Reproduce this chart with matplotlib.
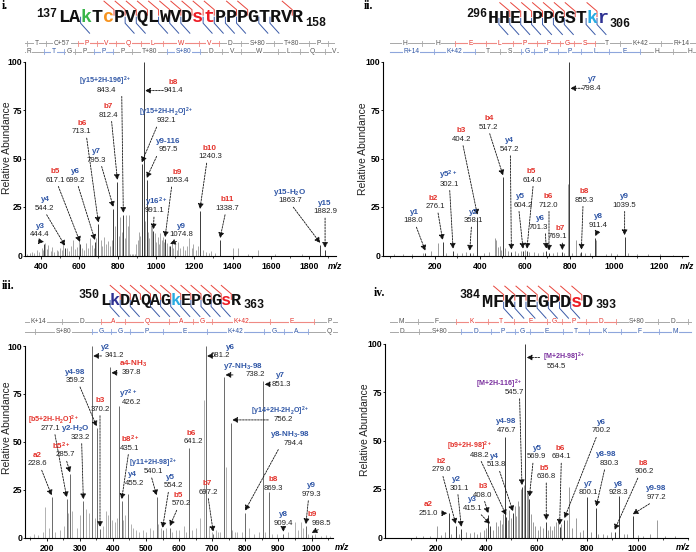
import matplotlib
matplotlib.use('Agg')
import matplotlib.pyplot as plt

plt.rcParams['font.family'] = ['Liberation Sans', 'DejaVu Sans']
plt.rcParams['mathtext.fontset'] = 'custom'
plt.rcParams['mathtext.rm'] = 'Liberation Sans:bold'
plt.rcParams['mathtext.it'] = 'Liberation Sans:bold:italic'
plt.rcParams['mathtext.bf'] = 'Liberation Sans:bold'
plt.rcParams['mathtext.default'] = 'rm'

W, H = 696, 552
COL = {'R': '#e4322b', 'B': '#2f56a6', 'P': '#7a2f9e'}
SEQCOL = {'.': '#111111', 'g': '#39b54a', 'o': '#f7931e', 'r': '#ed1c24',
          'c': '#29abe2', 'n': '#2e3192'}
GREY_L, GREY_T = '#a8a8a8', '#555555'
RED_L, BLUE_L = '#ef8a84', '#8ea6dc'

# ---------------- data: panel i ----------------
seq_i, seqcol_i = 'LAkTcPVQLWVDstPPPGTRVR', '..g.o.......rr........'
red_i = [5, 6, 7, 8, 9, 10, 11, 12, 13, 14, 16, 17, 21]
blue_i = [2, 6, 7, 9, 10, 11, 13, 14, 15, 16, 18, 19]
b_edges_i = [346, 355.2, 456.3, 616.3, 713.4, 812.4, 940.5, 1053.6, 1239.7, 1338.7,
             1453.8, 1620.8, 1801.8, 1898.8, 1960]
b_names_i = ['', 'T', 'C+57', 'P', 'V', 'Q', 'L', 'W', 'V', 'D', 'S+80', 'T+80', 'P', '']
b_hot_i = [3, 4, 5, 6, 7, 8]
y_edges_i = [288.2, 444.3, 545.3, 602.4, 699.4, 796.5, 893.5, 1074.5, 1241.5, 1356.6,
             1455.6, 1641.7, 1754.8, 1882.9, 1982.0]
y_names_i = ['R', 'T', 'G', 'P', 'P', 'P', 'T+80', 'S+80', 'D', 'V', 'W', 'L', 'Q', 'V']
y_hot_i = [1, 4, 7]

lab_i = ['y3', 'y4', 'b5', 'y6', 'b6', 'y7', 'b7', '[y15+2H-196]$^{2+}$', 'b8',
         '[y15+2H-H$_2$O]$^{2+}$', 'y9-116', 'y16$^{2+}$', 'b9', 'y9', 'b10', 'b11',
         'y15-H$_2$O', 'y15']
labcol_i = 'BBRBRBRBRBBBRBRRBB'
mass_i = ['444.4', '544.2', '617.1', '699.2', '713.1', '795.3', '812.4', '843.4', '941.4',
          '932.1', '957.5', '991.1', '1053.4', '1074.8', '1240.3', '1338.7', '1863.7', '1882.9']
pk_i_mz = [416, 526, 604, 682, 700, 778, 799, 830, 936, 926, 952, 987, 1048, 1074, 1230,
           1335, 1857, 1883]
pk_i_int = [6, 4, 6, 7, 16, 24, 38, 21, 100, 47, 39, 12.5, 8.5, 5, 23, 8, 5.5, 3]
noise_i_mz = [330, 345, 352, 365, 378, 392, 405, 410, 423, 430,
              438, 452, 460, 470, 482, 490, 500, 510, 517, 526,
              535, 548, 556, 569, 580, 590, 597, 612, 625, 633,
              645, 655, 665, 675, 690, 712, 720, 730, 740, 752,
              760, 770, 778, 786, 806, 815, 822, 838, 845, 852,
              858, 866, 874, 882, 890, 898, 905, 912, 918, 945,
              958, 965, 972, 978, 984, 995, 1003, 1010, 1016, 1022,
              1030, 1038, 1044, 1058, 1066, 1082, 1090, 1098, 1108, 1118,
              1128, 1140, 1152, 1162, 1175, 1188, 1196, 1210, 1222, 1248,
              1262, 1275, 1290, 1310, 1404, 1430, 1480, 1535, 1620, 1760]
noise_i_int = [1, 1.5, 2, 1.2, 3, 2, 4, 3, 6.3, 3.5,
               5.4, 2.5, 4.6, 2, 3, 2.5, 4, 3, 6.3, 2,
               4, 2.5, 5, 8, 3.5, 4.5, 8, 4, 3, 6.5,
               4, 8.8, 5.5, 4, 9, 8, 5, 9.7, 6, 7.5,
               5, 8, 23.4, 15, 10, 20, 12, 9, 21, 15,
               20.9, 1, 0.8, 0.8, 1, 6, 8, 12, 10, 18,
               12, 9, 15.7, 14.9, 10, 11.5, 7, 9.7, 6, 11.5,
               8, 9.7, 7, 6.3, 5, 7.1, 4, 6, 3, 7.1,
               4, 5, 3, 5, 8.8, 4, 6, 3, 5, 3,
               2, 1.5, 2.5, 1.5, 3.7, 3.7, 1, 2.9, 0.8, 0.8]

# ---------------- data: panel ii ----------------
seq_ii, seqcol_ii = 'HHELPPGSTkr', '.........cn'
red_ii = [2, 3, 4, 5, 6, 7, 8, 10]
blue_ii = [1, 2, 3, 4, 5, 6, 7, 9, 10]
b_edges_ii = [0, 138.1, 275.1, 404.2, 517.3, 614.3, 711.4, 768.4, 855.4, 956.5, 1126.6, 1296.7]
b_names_ii = ['H', 'H', 'E', 'L', 'P', 'P', 'G', 'S', 'T', 'K+42', 'R+14']
b_hot_ii = [2, 3, 4, 5, 6, 7]
y_edges_ii = [0, 189.1, 359.2, 460.3, 547.3, 604.3, 701.4, 798.5, 911.5, 1040.6, 1177.6, 1314.7]
y_names_ii = ['R+14', 'K+42', 'T', 'S', 'G', 'P', 'P', 'L', 'E', 'H', 'H']
y_hot_ii = [0, 1, 4, 5, 6, 7, 8]

lab_ii = ['y1', 'b2', 'y5$^{2+}$', 'b3', 'y2', 'b4', 'y4', 'b5', 'y5', 'b6', 'y6', 'b7',
          'b8', 'y8', 'y9', 'y7']
labcol_ii = 'BRBRBRBRBRBRRBBB'
mass_ii = ['188.0', '276.1', '302.1', '404.2', '358.1', '517.2', '547.2', '614.0', '604.2',
           '712.0', '701.3', '769.1', '855.3', '911.4', '1039.5', '798.4']
pk_ii_mz = [158, 235, 281.5, 389.6, 355.6, 503.7, 540.7, 610, 592.6, 708, 696, 767, 852,
            914, 1044, 796]
pk_ii_int = [1.5, 7, 2.5, 20, 1.5, 40.3, 2, 2.5, 2.5, 1.5, 2.5, 1.8, 2, 9, 9.5, 100]
noise_ii_mz = [20, 60, 100, 150, 185, 214, 250, 300, 320, 340,
               372, 418, 440, 466, 474, 483, 489, 495, 512, 525,
               556, 568, 582, 600, 620, 640, 660, 680, 725, 745,
               775, 793, 810, 830, 845, 870, 890, 919, 960, 985,
               1010, 1060, 1100, 1150, 1200, 1260]
noise_ii_int = [0.6, 0.8, 0.7, 1.2, 2.5, 6.5, 1.5, 1.5, 1.2, 2,
                1.5, 1.2, 2, 9, 8, 4.5, 5, 3, 4, 2.5,
                2.5, 1.5, 2.2, 2.8, 2, 1.8, 1.5, 2, 1.5, 2,
                1.5, 37, 1.5, 8, 1.5, 1.2, 1.5, 8, 1, 1.5,
                1, 1.2, 0.8, 0.8, 0.6, 0.5]

# ---------------- data: panel iii ----------------
seq_iii, seqcol_iii = 'LkDAQAGkEPGGsR', '.n.....c....r.'
red_iii = [2, 3, 4, 5, 6, 7, 8, 9, 10, 11, 12, 13]
blue_iii = [1, 2, 3, 5, 6, 7, 8, 9, 10, 11, 12]
b_edges_iii = [114.1, 256.2, 371.2, 442.3, 570.3, 641.3, 698.4, 868.5, 997.5, 1094.6]
b_names_iii = ['K+14', 'D', 'A', 'Q', 'A', 'G', 'K+42', 'E', 'P']
b_hot_iii = [2, 3, 4, 5, 6, 7]
y_edges_iii = [175.1, 342.1, 399.1, 456.2, 553.2, 682.3, 852.4, 909.4, 980.5, 1108.5]
y_names_iii = ['S+80', 'G', 'G', 'P', 'E', 'K+42', 'G', 'A', 'Q']
y_hot_iii = [1, 2, 3, 4, 5, 6, 7]

lab_iii = ['a2', '[b5+2H-H$_2$O]$^{2+}$', 'b5$^{2+}$', 'y2-H$_2$O', 'y4-98', 'b3',
           'y7$^{2+}$', 'b8$^{2+}$', 'y4', '[y11+2H-98]$^{2+}$', 'y5', 'b5', 'b6', 'b7',
           '[y14+2H-2H$_2$O]$^{2+}$', 'y8-NH$_3$-98', 'b8', 'y9', 'y8', 'b9', 'y2', 'y6',
           'a4-NH$_3$', 'y7-NH$_3$-98', 'y7']
labcol_iii = 'RRRBBRBRBBBRRRBBRBBRBBRBB'
mass_iii = ['228.6', '277.1', '285.7', '323.2', '359.2', '370.2', '426.2', '435.1', '455.2',
            '540.1', '554.2', '570.2', '641.2', '697.2', '756.2', '794.4', '869.3', '979.3',
            '909.4', '998.5', '341.2', '681.2', '397.8', '738.2', '851.3']
pk_iii_mz = [215, 260.4, 270.4, 310.6, 351, 361, 419, 426.6, 446.6, 532, 550, 572, 631, 703,
             756, 799, 872, 983, 914.8, 1000.5, 336, 680, 391, 735.6, 854]
pk_iii_int = [21, 20, 33, 19, 57, 4.5, 68.5, 19, 22.5, 21, 4, 5, 46.6, 2, 60, 13, 24, 6, 2,
              1.5, 100, 100, 89, 84, 81.5]
noise_iii_mz = [150, 162, 175, 188, 195, 206, 225, 240, 252, 265,
                277, 290, 300, 318, 327, 345, 370, 380, 386, 398,
                405, 412, 430, 438, 455, 462, 470, 480, 492, 500,
                512, 520, 537, 545, 560, 580, 590, 600, 615, 622,
                640, 650, 662, 675, 690, 698, 710, 718, 725, 743,
                760, 768, 775, 790, 810, 825, 840, 860, 880, 895,
                928, 950, 958, 968, 975, 990, 1010, 1030, 1045, 1055]
noise_iii_int = [1, 2, 1.5, 3, 16, 5, 3, 4, 6, 13,
                 14, 5, 12, 15, 13, 10, 6, 14, 12, 9,
                 8, 10, 9, 12, 7, 5, 4, 3, 4, 3,
                 5, 4, 7, 5, 5, 3, 4, 4, 6, 3,
                 4, 5, 10, 72, 6, 3, 4, 3, 3, 37,
                 4, 3, 3, 3, 5, 2, 3, 3, 2, 2,
                 3, 8, 4, 8, 5, 2, 2, 1, 1.5, 1]

# ---------------- data: panel iv ----------------
seq_iv, seqcol_iv = 'MFKTEGPDsD', '........r.'
red_iv = [2, 3, 4, 5, 6, 7, 8, 9]
blue_iv = [2, 3, 4, 5, 6, 7, 8]
b_edges_iv = [0, 132.05, 279.1, 407.2, 508.3, 637.3, 694.3, 791.4, 906.4, 1073.4, 1188.4]
b_names_iv = ['M', 'F', 'K', 'T', 'E', 'G', 'P', 'D', 'S+80', 'D']
b_hot_iv = [2, 3, 4, 5, 6, 7]
y_edges_iv = [0, 134.0, 301.0, 416.1, 513.1, 570.1, 699.2, 800.2, 928.3, 1075.4, 1206.5]
y_names_iv = ['D', 'S+80', 'D', 'P', 'G', 'E', 'T', 'K', 'F', 'M']
y_hot_iv = [2, 3, 4, 5, 6, 7, 8, 9]

lab_iv = ['a2', 'b2', 'y2', 'b3', 'y3', '[M+2H-98]$^{2+}$', '[M+2H-116]$^{2+}$', 'y4-98',
          '[b9+2H-98]$^{2+}$', 'y4', 'y5', 'b5', 'b6', 'y6', 'y8-98', 'y7', 'y8', 'b8', 'y9-98']
labcol_iv = 'RRBRBPPBRBBRRBBBBRB'
mass_iv = ['251.0', '279.0', '301.1', '408.0', '415.1', '554.5', '545.7', '476.7', '488.2',
           '513.8', '569.9', '636.8', '694.1', '700.2', '830.3', '800.1', '928.3', '906.2',
           '977.2']
pk_iv_mz = [251, 279, 301, 408, 415, 554.5, 541.5, 475, 479, 506, 571, 638, 691, 710, 836,
            800, 928, 909, 981]
pk_iv_int = [12.5, 6, 4.5, 11.5, 6, 100, 26, 52, 10.5, 12.5, 20, 8, 5.5, 9, 15, 21, 21.4,
             3, 11]
noise_iv_mz = [120, 150, 178, 205, 222, 235, 262, 290, 320, 335,
               350, 362, 375, 390, 400, 425, 438, 448, 455, 462,
               468, 485, 492, 498, 512, 518, 525, 530, 537, 548,
               560, 565, 578, 585, 592, 605, 615, 625, 645, 652,
               660, 668, 676, 684, 698, 720, 728, 740, 755, 770,
               785, 815, 845, 862, 880, 895, 945, 960, 1000, 1020,
               1050, 1077, 1110, 1150]
noise_iv_int = [0.8, 1, 1, 6, 1.5, 3, 2, 2, 3, 2.5,
                3, 2, 3, 4, 5, 4, 8, 6, 9, 7,
                12, 9, 14, 10, 16, 11, 19, 16, 25, 27,
                24, 22, 12, 8, 6, 4, 6, 5, 4, 6,
                4, 6, 8, 10, 7, 9, 26, 5, 10, 3,
                4, 3, 2, 2, 1.5, 3, 2, 2, 1.5, 1,
                2, 9, 1, 0.8]

# ---------------- label layout: (num x, num y, arrow kind, arrow start x, label x) ----------------
lay_i = [(395, 10.6, 'd', 395, None), (421, 24.3, 'd', 430, None), (474, 38.9, 'd', 491, None),
         (578, 38.9, 'd', 595, None), (613, 63.8, 'd', 639, None), (691, 49.2, 'd', 717, None),
         (752, 72.4, 'd', 769, None), (743, 85.3, 'd', 822, 735), (1091, 85.0, 'h', 1039, None),
         (1056, 69.5, 'd', 1004, None), (1065, 54.4, 'd', 1004, None), (995, 23.1, 'd', 990, 1000),
         (1109, 38.6, 'd', 1082, None), (1135, 10.6, 'd', 1108, None), (1282, 50.9, 'd', 1265, None),
         (1370, 24.3, 'd', 1361, None), (1700, 28.2, 'd', 1717, None), (1883, 22.6, 'd', 1883, None)]
lay_ii = [(103.7, 17.9, 'd', 118.5, 111), (203, 25.2, 'd', 214.8, 192.6), (266.7, 36.8, 'd', 266.7, 259),
          (318.5, 59.9, 'd', 326, None), (370.4, 17.9, 'd', 363, None), (440, 66.1, 'd', 444.4, None),
          (533.3, 54.7, 'd', 536.3, None), (634, 38.9, 'd', 637, 629.6), (592.6, 26.0, 'd', 574.8, 582),
          (703.7, 26.0, 'd', 708, 706.7), (659, 14.5, 'd', 692, 671), (745, 9.7, 'd', 767.4, 755.6),
          (866.7, 28.6, 'd', 859, 863.7), (926, 15.7, 'd', 923, None), (1044.4, 26.0, 'd', 1044.4, None),
          (896, 86.2, 'h', 859, 903)]
lay_iii = [(171.6, 38.4, 'd', 184.9, None), (210, 57.0, 'd', 225, 220), (255.3, 43.1, 'd', 260.4, 245),
           (300.6, 52.3, 'd', 305.7, 285.5), (285.5, 81.9, 'd', 300.6, None), (361, 66.9, 'd', 361, None),
           (456.8, 70.4, '', 0, 446.5), (451.6, 46.6, 'd', 446.5, None), (466.8, 28.3, '', 0, 459.7),
           (522, 34.4, 'd', 517.2, None), (582.5, 26.9, 'd', 567.4, 572.5), (607.8, 17.5, 'd', 592.7, 597.6),
           (643, 50.0, '', 0, 638), (688.3, 23.6, 'd', 688.2, 683.4), (914.8, 61.4, 'h', 869.5, 904.8),
           (945, 49.2, 'd', 899.7, 935), (884.6, 25.7, '', 0, None), (1000.5, 22.5, 'd', 990.3, None),
           (914.8, 7.4, 'd', 914.8, None), (1031, 7.4, 'd', 1020.5, 1000.5), (406, 94.8, 'h', 365.6, 376),
           (725.6, 94.8, 'h', 699.4, 753.7), (456.8, 86.0, 'h', 412.4, 461.6),
           (829, 84.9, 'h', 762.8, 794), (910, 80.0, 'h', 874.6, 904.8)]
lay_iv = [(168.8, 12.5, 'r', 228.3, None), (221.7, 34.8, 'd', 228.3, None), (294.4, 25.4, 'd', 287.7, 281),
          (386.8, 21.9, 'd', 393.5, None), (347, 15.0, 'd', 380, None), (677.4, 88.4, 'hl', 611.6, 710.6),
          (512, 74.8, 'd', 532.2, 453), (479, 55.4, '', 0, None), (373.6, 42.5, 'd', 380, 334),
          (439.6, 37.4, 'd', 453, 433), (598, 41.6, 'd', 585, 604.8), (637.9, 31.4, 'd', 637.9, 631),
          (697.3, 41.6, 'd', 697.3, 694.7), (855.9, 54.9, 'd', 836, None), (889, 38.2, 'd', 869, 875.7),
          (803, 23.1, '', 0, None), (924.6, 23.1, '', 0, None), (1027.7, 33.9, 'd', 1001, 1021),
          (1073.9, 20.7, 'd', 1047.5, None)]

ARW = dict(arrowstyle='-|>,head_length=0.32,head_width=0.17', color='#111111', lw=0.6,
           linestyle=(0, (2.2, 1.4)), shrinkA=0, shrinkB=0)

fig = plt.figure(figsize=(W / 100, H / 100), dpi=100)
ov = fig.add_axes([0, 0, 1, 1])
ov.set_xlim(0, W)
ov.set_ylim(H, 0)
ov.axis('off')


def px_axes(l, t, r, b):
    ax = fig.add_axes([l / W, 1 - b / H, (r - l) / W, (b - t) / H])
    ax.set_facecolor('none')
    return ax


def peptide(seq, codes, n0, n1, x0, adv, base, sup_y, sub_y, red, blue):
    fs = adv * 1.2
    for i, ch in enumerate(seq):
        ov.text(x0 + (i + 0.5) * adv, base, ch, ha='center', va='baseline', family='Liberation Mono',
                weight='bold', size=fs, color=SEQCOL[codes[i]])
    ov.text(x0 - 1, sup_y, str(n0), ha='right', va='baseline', family='Liberation Mono',
            weight='bold', size=8.5, color='#111111')
    ov.text(x0 + len(seq) * adv + 2, sub_y, str(n1), ha='left', va='baseline',
            family='Liberation Mono', weight='bold', size=8.5, color='#111111')
    top = base - 0.9 * adv
    for k in red:
        xb = x0 + k * adv
        ov.plot([xb - 10, xb, xb], [top - 10.5, top - 2, top + 3.5], color='#e8453c', lw=0.7)
    for k in blue:
        xb = x0 + k * adv
        ov.plot([xb, xb, xb + 9], [base - 4.5, base + 1.5, base + 11.5], color='#3a5aa8', lw=0.7)


def ladder(y, edges, names, hot, a, b, x0, x1, line_hot, text_hot):
    xs = [a + b * e for e in edges]
    ov.plot([x0, x1], [y, y], color=GREY_L, lw=0.7, zorder=1)
    for k in hot:
        ov.plot([max(xs[k], x0), min(xs[k + 1], x1)], [y, y], color=line_hot, lw=0.8, zorder=1.5)
    for j, x in enumerate(xs):
        if x0 < x < x1:
            c = line_hot if (j in hot or (j - 1) in hot) else GREY_L
            ov.plot([x, x], [y - 2.3, y + 2.3], color=c, lw=0.6, zorder=2)
    for k, nm in enumerate(names):
        if not nm:
            continue
        xm = (xs[k] + xs[k + 1]) / 2
        ov.text(xm, y, nm, ha='center', va='center', fontsize=4.8,
                color=text_hot if k in hot else GREY_T, zorder=3,
                bbox=dict(fc='white', ec='none', pad=0.4))


def spectrum(ax, xlim, major, minor, nmz, nint, pmz, pint, ncol, pcol, mz_x, mz_y):
    ax.vlines(nmz, 0, nint, color=ncol, lw=0.6)
    ax.vlines(pmz, 0, pint, color=pcol, lw=0.7, clip_on=False)
    ax.set_xlim(*xlim)
    ax.set_ylim(0, 100)
    for s in ['top', 'right']:
        ax.spines[s].set_visible(False)
    for s in ['left', 'bottom']:
        ax.spines[s].set_linewidth(0.8)
    ax.set_yticks([0, 25, 50, 75, 100])
    ax.set_xticks(major)
    ax.set_xticks(minor, minor=True)
    ax.tick_params(axis='x', which='major', labelsize=6.2, width=0.6, length=1.8, pad=3.2)
    ax.tick_params(axis='x', which='minor', width=0.5, length=1.2)
    ax.tick_params(axis='y', labelsize=6.2, width=0.6, length=1.5, pad=0.6)
    for t in ax.get_xticklabels() + ax.get_yticklabels():
        t.set_fontweight('bold')
    ov.text(mz_x, mz_y, 'm/z', ha='center', va='center', fontsize=6.2, fontweight='bold',
            fontstyle='italic')


def label_peaks(ax, ppu, labels, cols, masses, pmz, pint, layout):
    gap = 1.5 / ppu
    for lab, c, m, x, y, (tx, ty, kind, sx, lx) in zip(labels, cols, masses, pmz, pint, layout):
        fs = 5.1 if lab.startswith('[') else 5.8
        ax.text(tx if lx is None else lx, ty + 4.4, lab, color=COL[c], fontsize=fs,
                fontweight='bold', ha='center', va='center', clip_on=False)
        ax.text(tx, ty, m, color='#222222', fontsize=5.6, ha='center', va='center', clip_on=False)
        if kind == 'd':
            ax.annotate('', xy=(x, y + 1.0), xytext=(sx, ty - 3.3), arrowprops=ARW)
        elif kind == 'h':
            ax.annotate('', xy=(x + gap, ty), xytext=(sx, ty), arrowprops=ARW)
        elif kind == 'hl':
            ax.annotate('', xy=(x + gap, ty + 4.4), xytext=(sx, ty + 4.4), arrowprops=ARW)
        elif kind == 'r':
            ax.annotate('', xy=(x - gap, ty), xytext=(sx, ty), arrowprops=ARW)


# panel labels and y labels
for txt, x, y in [('i.', 2, 6), ('ii.', 364, 6), ('iii.', 2, 286), ('iv.', 374, 293)]:
    ov.text(x, y, txt, ha='left', va='center', family='Liberation Serif', weight='bold', size=8.5)
for x, y in [(7, 148), (363, 149), (7, 428), (365, 430)]:
    ov.text(x, y, 'Relative Abundance', rotation=90, ha='center', va='center', fontsize=7.5,
            color='#222222')

# peptide headers
peptide(seq_i, seqcol_i, 137, 158, 58.3, 11.14, 21.7, 16.7, 25.5, red_i, blue_i)
peptide(seq_ii, seqcol_ii, 296, 306, 488, 10.9, 23, 16.7, 26.7, red_ii, blue_ii)
peptide(seq_iii, seqcol_iii, 350, 363, 100, 10.1, 305, 298.3, 308.3, red_iii, blue_iii)
peptide(seq_iv, seqcol_iv, 384, 393, 481.3, 11.17, 306.7, 298.3, 308.3, red_iv, blue_iv)

# fragment ladders
ladder(43.3, b_edges_i, b_names_i, b_hot_i, -42.5, 0.195, 25, 334, RED_L, COL['R'])
ladder(51.7, y_edges_i, y_names_i, y_hot_i, -42.5, 0.195, 25, 338, BLUE_L, COL['B'])
ladder(43.3, b_edges_ii, b_names_ii, b_hot_ii, 388.3, 0.2418, 389.7, 694.5, RED_L, COL['R'])
ladder(51.7, y_edges_ii, y_names_ii, y_hot_ii, 388.3, 0.2418, 389.7, 694.5, BLUE_L, COL['B'])
ladder(321.7, b_edges_iii, b_names_iii, b_hot_iii, -24.4, 0.3388, 25, 337, RED_L, COL['R'])
ladder(331.7, y_edges_iii, y_names_iii, y_hot_iii, -24.4, 0.3388, 25, 337, BLUE_L, COL['B'])
ladder(321.7, b_edges_iv, b_names_iv, b_hot_iv, 384.5, 0.255, 389.7, 691, RED_L, COL['R'])
ladder(331.7, y_edges_iv, y_names_iv, y_hot_iv, 384.5, 0.255, 389.7, 691, BLUE_L, COL['B'])

# spectra
ax1 = px_axes(25, 61.5, 336, 255.5)
spectrum(ax1, (317, 1940), range(400, 1801, 200), range(400, 1901, 100),
         noise_i_mz, noise_i_int, pk_i_mz, pk_i_int, '#9a9a9a', '#3a3a3a', 335, 266.7)
label_peaks(ax1, 311 / 1623, lab_i, labcol_i, mass_i, pk_i_mz, pk_i_int, lay_i)

ax2 = px_axes(383, 61.5, 688, 255.5)
spectrum(ax2, (-30, 1326), range(200, 1201, 200), range(0, 1301, 100),
         noise_ii_mz, noise_ii_int, pk_ii_mz, pk_ii_int, '#8a8a8a', '#3a3a3a', 687, 266.7)
label_peaks(ax2, 305 / 1356, lab_ii, labcol_ii, mass_ii, pk_ii_mz, pk_ii_int, lay_ii)

ax3 = px_axes(25, 346, 333, 537.5)
spectrum(ax3, (134.4, 1064.9), range(200, 1001, 100), range(150, 1051, 50),
         noise_iii_mz, noise_iii_int, pk_iii_mz, pk_iii_int, '#a5a5a5', '#6a6a6a', 342, 548)
label_peaks(ax3, 308 / 930.5, lab_iii, labcol_iii, mass_iii, pk_iii_mz, pk_iii_int, lay_iii)

ax4 = px_axes(385.4, 343.5, 688, 537.5)
spectrum(ax4, (0, 1200), range(200, 1001, 200), range(100, 1201, 100),
         noise_iv_mz, noise_iv_int, pk_iv_mz, pk_iv_int, '#8a8a8a', '#3a3a3a', 683, 548)
label_peaks(ax4, 302.6 / 1200, lab_iv, labcol_iv, mass_iv, pk_iv_mz, pk_iv_int, lay_iv)

fig.savefig('out.png', dpi=100)
